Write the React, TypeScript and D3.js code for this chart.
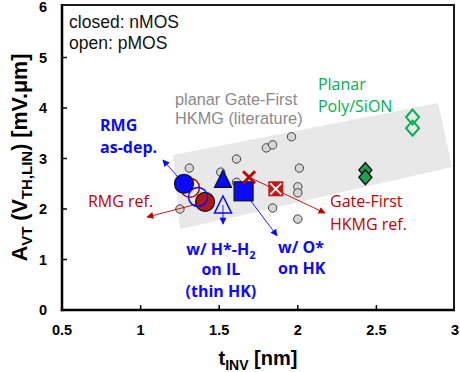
import React from 'react';
import * as d3 from 'd3';

// A_VT vs t_INV — planar gate-first HKMG literature vs RMG splits
const xTicks = [0.5, 1, 1.5, 2, 2.5, 3];
const yTicks = [0, 1, 2, 3, 4, 5, 6];

// grey literature points (planar Gate-First HKMG)
const litT = [1.25, 1.31, 1.51, 1.61, 1.61, 1.80, 1.84, 1.96, 2.01, 2.0, 2.0, 1.84, 2.0];
const litA = [2.0, 2.81, 2.73, 2.99, 2.53, 3.21, 3.27, 3.43, 2.81, 2.44, 2.32, 2.02, 1.80];

// shaded trend band corners
const bandT = [1.206, 2.892, 2.981, 1.251];
const bandA = [3.07, 4.10, 2.83, 1.60];

// planar poly/SiON
const polyN = [{ t: 2.43, a: 2.77 }, { t: 2.43, a: 2.63 }];
const polyP = [{ t: 2.73, a: 3.82 }, { t: 2.73, a: 3.60 }];

// RMG + gate-first refs
const rmgRefP = { t: 1.314, a: 2.42 };
const rmgAsDepN = { t: 1.276, a: 2.50 };
const rmgRefN = { t: 1.41, a: 2.14 };
const rmgAsDepP = { t: 1.365, a: 2.24 };
const hIlN = { t: 1.524, a: 2.59 };
const hIlP = { t: 1.524, a: 2.08 };
const oHkN = { t: 1.655, a: 2.35 };
const gfRefN = { t: 1.69, a: 2.63 };
const gfRefP = { t: 1.86, a: 2.40 };

// arrows: from marker to label
const arrows = [
  { from: rmgAsDepN, to: { t: 1.142, a: 2.97 }, color: 'blue' },
  { from: rmgRefN, to: { t: 1.041, a: 1.84 }, color: 'red' },
  { from: hIlP, to: { t: 1.524, a: 1.70 }, color: 'blue' },
  { from: oHkN, to: { t: 1.868, a: 1.47 }, color: 'blue' },
  { from: gfRefN, to: { t: 2.173, a: 1.92 }, color: 'red' },
];

const BLUE = '#0a0aff';
const RED = '#c00000';
const GREEN = '#00b050';

const W = 460, H = 372;
const margin = { top: 7, right: 5, bottom: 62, left: 62 };

const diamond = (w: number, h: number) => `M0,${-h}L${w},0L0,${h}L${-w},0Z`;
const tri = (w: number, h: number) => `M0,${-h}L${w},${h * 0.9}L${-w},${h * 0.9}Z`;

export default function App() {
  const x = d3.scaleLinear().domain([0.5, 3]).range([margin.left, W - margin.right]);
  const y = d3.scaleLinear().domain([0, 6]).range([H - margin.bottom, margin.top]);
  const x0 = x(0.5), x1 = W - margin.right - 1, y0 = y(0), y1 = y(6) - 2;

  const band = bandT.map((t, i) => [x(t), y(bandA[i])] as [number, number]);
  const bandPath = d3.line()(band) + 'Z';

  const tf = (p: { t: number; a: number }) => `translate(${x(p.t)},${y(p.a)})`;

  const sans = 'Liberation Sans, Arial, sans-serif';
  const cal = 'Open Sans, sans-serif';

  return (
    <svg width={W} height={H} style={{ position: 'absolute', left: 0, top: 0, background: '#fff' }}>
      <defs>
        {['blue', 'red'].map(c => (
          <marker key={c} id={`ah-${c}`} viewBox="0 0 10 10" refX="9" refY="5"
            markerWidth="8" markerHeight="7" markerUnits="userSpaceOnUse" orient="auto">
            <path d="M0,0L10,5L0,10Z" fill={c === 'blue' ? BLUE : RED} />
          </marker>
        ))}
      </defs>

      {/* band */}
      <path d={bandPath} fill="#e8e8e8" />

      {/* literature */}
      {litT.map((t, i) => (
        <circle key={i} cx={x(t)} cy={y(litA[i])} r={4.2} fill="#d6d6d6" stroke="#404040" strokeWidth={1} />
      ))}

      {/* arrows */}
      {arrows.map((a, i) => (
        <line key={i} x1={x(a.from.t)} y1={y(a.from.a)} x2={x(a.to.t)} y2={y(a.to.a)}
          stroke={a.color === 'blue' ? BLUE : RED} strokeWidth={0.9} markerEnd={`url(#ah-${a.color})`} />
      ))}

      {/* poly/SiON */}
      {polyN.map((p, i) => (
        <path key={i} d={diamond(6.5, 7.5)} transform={tf(p)} fill="#1ea152" stroke="#111" strokeWidth={1.4} />
      ))}
      {polyP.map((p, i) => (
        <path key={i} d={diamond(6.5, 7.5)} transform={tf(p)} fill="none" stroke={GREEN} strokeWidth={2} />
      ))}

      {/* RMG */}
      <circle transform={tf(rmgRefP)} r={9.5} fill="none" stroke={RED} strokeWidth={1.5} />
      <circle transform={tf(rmgAsDepN)} r={9.5} fill={BLUE} stroke="#111" strokeWidth={1.2} />
      <circle transform={tf(rmgRefN)} r={9.5} fill="#b01818" stroke="#111" strokeWidth={1.2} />
      <circle transform={tf(rmgAsDepP)} r={9.5} fill="none" stroke={BLUE} strokeWidth={1.5} />
      <path transform={tf(hIlN)} d={tri(8.5, 9)} fill={BLUE} stroke="#111" strokeWidth={1.2} />
      <path transform={tf(hIlP)} d={tri(8.5, 9)} fill="none" stroke={BLUE} strokeWidth={1.5} />
      <rect transform={tf(oHkN)} x={-9.5} y={-9.5} width={19} height={19} fill={BLUE} stroke="#111" strokeWidth={1.2} />
      <g transform={tf(gfRefN)} stroke={RED} strokeWidth={2.8}>
        <line x1={-6} y1={-6} x2={6} y2={6} />
        <line x1={-6} y1={6} x2={6} y2={-6} />
      </g>
      <g transform={tf(gfRefP)}>
        <rect x={-7.5} y={-7.5} width={15} height={15} fill="#c01818" />
        <line x1={-5.5} y1={-5.5} x2={5.5} y2={5.5} stroke="#fff" strokeWidth={1.8} />
        <line x1={-5.5} y1={5.5} x2={5.5} y2={-5.5} stroke="#fff" strokeWidth={1.8} />
      </g>

      {/* frame */}
      <rect x={x0} y={y1} width={x1 - x0} height={y0 - y1} fill="none" stroke="#1a1a1a" strokeWidth={2} />
      <line x1={x0} y1={y1 - 1} x2={x0} y2={y0 + 1.2} stroke="#000" strokeWidth={2.5} />
      <line x1={x0 - 1.2} y1={y0} x2={x1 + 1} y2={y0} stroke="#000" strokeWidth={2.5} />

      {/* ticks */}
      {xTicks.slice(1, -1).map(t => (
        <line key={t} x1={x(t)} x2={x(t)} y1={y0} y2={y0 - 5} stroke="#000" strokeWidth={1.5} />
      ))}
      {yTicks.slice(1, -1).map(t => (
        <line key={t} x1={x0} x2={x0 + 5} y1={y(t)} y2={y(t)} stroke="#000" strokeWidth={1.5} />
      ))}
      {xTicks.map(t => (
        <text key={t} x={x(t)} y={y0 + 25} textAnchor="middle" fontFamily={sans} fontWeight="bold" fontSize={14.5}>{t}</text>
      ))}
      {yTicks.map(t => (
        <text key={t} x={x0 - 15} y={y(t) + 5} textAnchor="end" fontFamily={sans} fontWeight="bold" fontSize={14.5}>{t}</text>
      ))}

      {/* axis titles */}
      <text x={(x0 + x1) / 2} y={365} textAnchor="middle" fontFamily={sans} fontWeight="bold" fontSize={20}>
        t<tspan fontSize={14} dy={5}>INV</tspan><tspan dy={-5}> [nm]</tspan>
      </text>
      <text transform={`translate(27,${(y0 + y1) / 2}) rotate(-90)`} textAnchor="middle" fontFamily={sans} fontWeight="bold" fontSize={21.5}>
        A<tspan fontSize={15} dy={5}>VT</tspan><tspan dy={-5}> (V</tspan><tspan fontSize={15} dy={5}>TH,LIN</tspan><tspan dy={-5}>) [mV.μm]</tspan>
      </text>

      {/* notes */}
      <text fontFamily={sans} fontSize={17.5} fill="#111">
        <tspan x={x(0.545)} y={y(5.58)}>closed: nMOS</tspan>
        <tspan x={x(0.545)} y={y(5.17)}>open: pMOS</tspan>
      </text>
      <text fontFamily={sans} fontSize={16.3} fill="#8a8a8a">
        <tspan x={x(1.219)} y={y(4.06)}>planar Gate-First</tspan>
        <tspan x={x(1.219)} y={y(3.68)}>HKMG (literature)</tspan>
      </text>
      <text fontFamily={cal} fontSize={16} fill={GREEN}>
        <tspan x={x(2.128)} y={y(4.36)}>Planar</tspan>
        <tspan x={x(2.128)} y={y(3.92)}>Poly/SiON</tspan>
      </text>
      <text fontFamily={cal} fontSize={16} fontWeight="bold" fill={BLUE}>
        <tspan x={x(0.742)} y={y(3.54)}>RMG</tspan>
        <tspan x={x(0.742)} y={y(3.11)}>as-dep.</tspan>
      </text>
      <text fontFamily={cal} fontSize={16} fill={RED} x={x(0.665)} y={y(2.04)}>RMG ref.</text>
      <text fontFamily={cal} fontSize={16} fill={RED}>
        <tspan x={x(2.205)} y={y(2.04)}>Gate-First</tspan>
        <tspan x={x(2.205)} y={y(1.58)}>HKMG ref.</tspan>
      </text>
      <text fontFamily={cal} fontSize={16} fontWeight="bold" fill={BLUE} textAnchor="middle">
        <tspan x={x(1.511)} y={y(1.09)}>w/ H*-H<tspan fontSize={11} dy={4}>2</tspan></tspan>
        <tspan x={x(1.511)} y={y(0.69)}>on IL</tspan>
        <tspan x={x(1.511)} y={y(0.26)}>(thin HK)</tspan>
      </text>
      <text fontFamily={cal} fontSize={16} fontWeight="bold" fill={BLUE}>
        <tspan x={x(1.874)} y={y(1.13)}>w/ O*</tspan>
        <tspan x={x(1.874)} y={y(0.71)}>on HK</tspan>
      </text>
    </svg>
  );
}
